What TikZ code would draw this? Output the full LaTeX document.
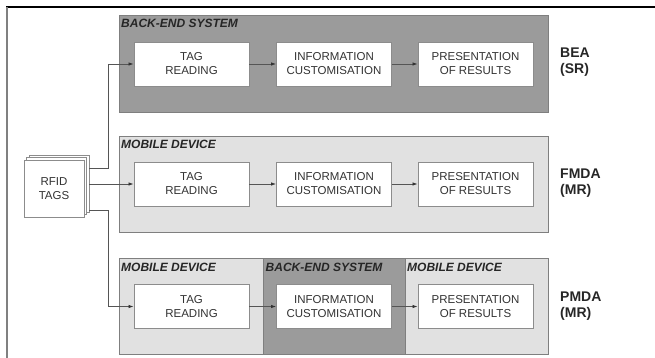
\documentclass[tikz,border=0pt]{standalone}
\usepackage{fontspec}
\setmainfont{Liberation Sans}
\usetikzlibrary{arrows.meta}
\definecolor{darkp}{HTML}{9B9B9B}
\definecolor{lightp}{HTML}{E1E1E1}
\definecolor{pborder}{HTML}{7F7F7F}
\definecolor{bborder}{HTML}{8C8C8C}
\definecolor{btext}{HTML}{333333}
\definecolor{conncol}{HTML}{555555}
\tikzset{
  panel/.style={draw=pborder, line width=0.9pt, inner sep=0pt, outer sep=0pt},
  stepbox/.style={draw=bborder, line width=0.9pt, fill=white, minimum width=115pt, minimum height=44pt,
    inner sep=0pt, align=center, text=btext, font=\fontsize{11.5}{14}\selectfont},
  ptitle/.style={anchor=base west, inner sep=0pt, text=black!85, font=\fontsize{12}{14}\selectfont\bfseries\itshape},
  rlabel/.style={anchor=west, inner sep=0pt, align=left, text=black!85, font=\fontsize{14}{16}\selectfont\bfseries},
  sheet/.style={draw=bborder, line width=0.8pt, fill=white, minimum width=60pt, minimum height=57pt, inner sep=0pt},
  conn/.style={draw=conncol, line width=0.8pt},
  arr/.style={conn, -{Latex[length=5pt,width=3.5pt,color=black!80]}, shorten >=0pt}
}
\begin{document}
\begin{tikzpicture}[x=1pt,y=-1pt]
\useasboundingbox (0,0) rectangle (655,358);
% frame
\draw[black, line width=1.3pt] (6.2,7) -- (655,7);
\draw[gray, line width=2pt] (7,7) -- (7,358);

% panels
\node[panel, fill=darkp, minimum width=429pt, minimum height=97pt] (p1) at (333.5,63.5) {};
\node[panel, fill=lightp, minimum width=429pt, minimum height=96pt] (p2) at (333.5,184) {};
\node[panel, fill=lightp, minimum width=144pt, minimum height=96pt] (p3a) at (191,306) {};
\node[panel, fill=darkp, minimum width=142pt, minimum height=96pt] (p3b) at (334,306) {};
\node[panel, fill=lightp, minimum width=143pt, minimum height=96pt] (p3c) at (476.5,306) {};

% titles
\node[ptitle] (t1) at (121,28) {BACK-END SYSTEM};
\node[ptitle] (t2) at (121,149) {MOBILE DEVICE};
\node[ptitle] (t3a) at (121,271) {MOBILE DEVICE};
\node[ptitle] (t3b) at (265.5,271) {BACK-END SYSTEM};
\node[ptitle] (t3c) at (407,271) {MOBILE DEVICE};

% boxes
\node[stepbox] (tag1) at (191.5,64) {TAG\\READING};
\node[stepbox] (info1) at (334,64) {INFORMATION\\CUSTOMISATION};
\node[stepbox] (pres1) at (475.5,64) {PRESENTATION\\OF RESULTS};
\node[stepbox] (tag2) at (191.5,184) {TAG\\READING};
\node[stepbox] (info2) at (334,184) {INFORMATION\\CUSTOMISATION};
\node[stepbox] (pres2) at (475.5,184) {PRESENTATION\\OF RESULTS};
\node[stepbox] (tag3) at (191.5,306.5) {TAG\\READING};
\node[stepbox] (info3) at (334,306.5) {INFORMATION\\CUSTOMISATION};
\node[stepbox] (pres3) at (475.5,306.5) {PRESENTATION\\OF RESULTS};

% labels
\node[rlabel] (l1) at (560,62) {BEA\\(SR)};
\node[rlabel] (l2) at (560,183) {FMDA\\(MR)};
\node[rlabel] (l3) at (560,306) {PMDA\\(MR)};

% RFID stack
\node[sheet] (rfidback) at (59,183.5) {};
\node[sheet] (rfidmid) at (56.5,186) {};
\node[sheet, text=btext, align=center, font=\fontsize{11.5}{14}\selectfont] (rfid) at (54,188.5) {RFID\\TAGS};

% arrows between steps
\draw[arr] (tag1) -- (info1);
\draw[arr] (info1) -- (pres1);
\draw[arr] (tag2) -- (info2);
\draw[arr] (info2) -- (pres2);
\draw[arr] (tag3) -- (info3);
\draw[arr] (info3) -- (pres3);

% connectors from RFID tags
\draw[arr] ([yshift=15.5pt]rfidback.east) -- ++(19,0) |- (tag1.west);
\draw[arr] (rfidback.east |- tag2.west) -- (tag2.west);
\draw[arr] ([yshift=-26.5pt]rfidback.east) -- ++(19,0) |- (tag3.west);
\end{tikzpicture}
\end{document}
